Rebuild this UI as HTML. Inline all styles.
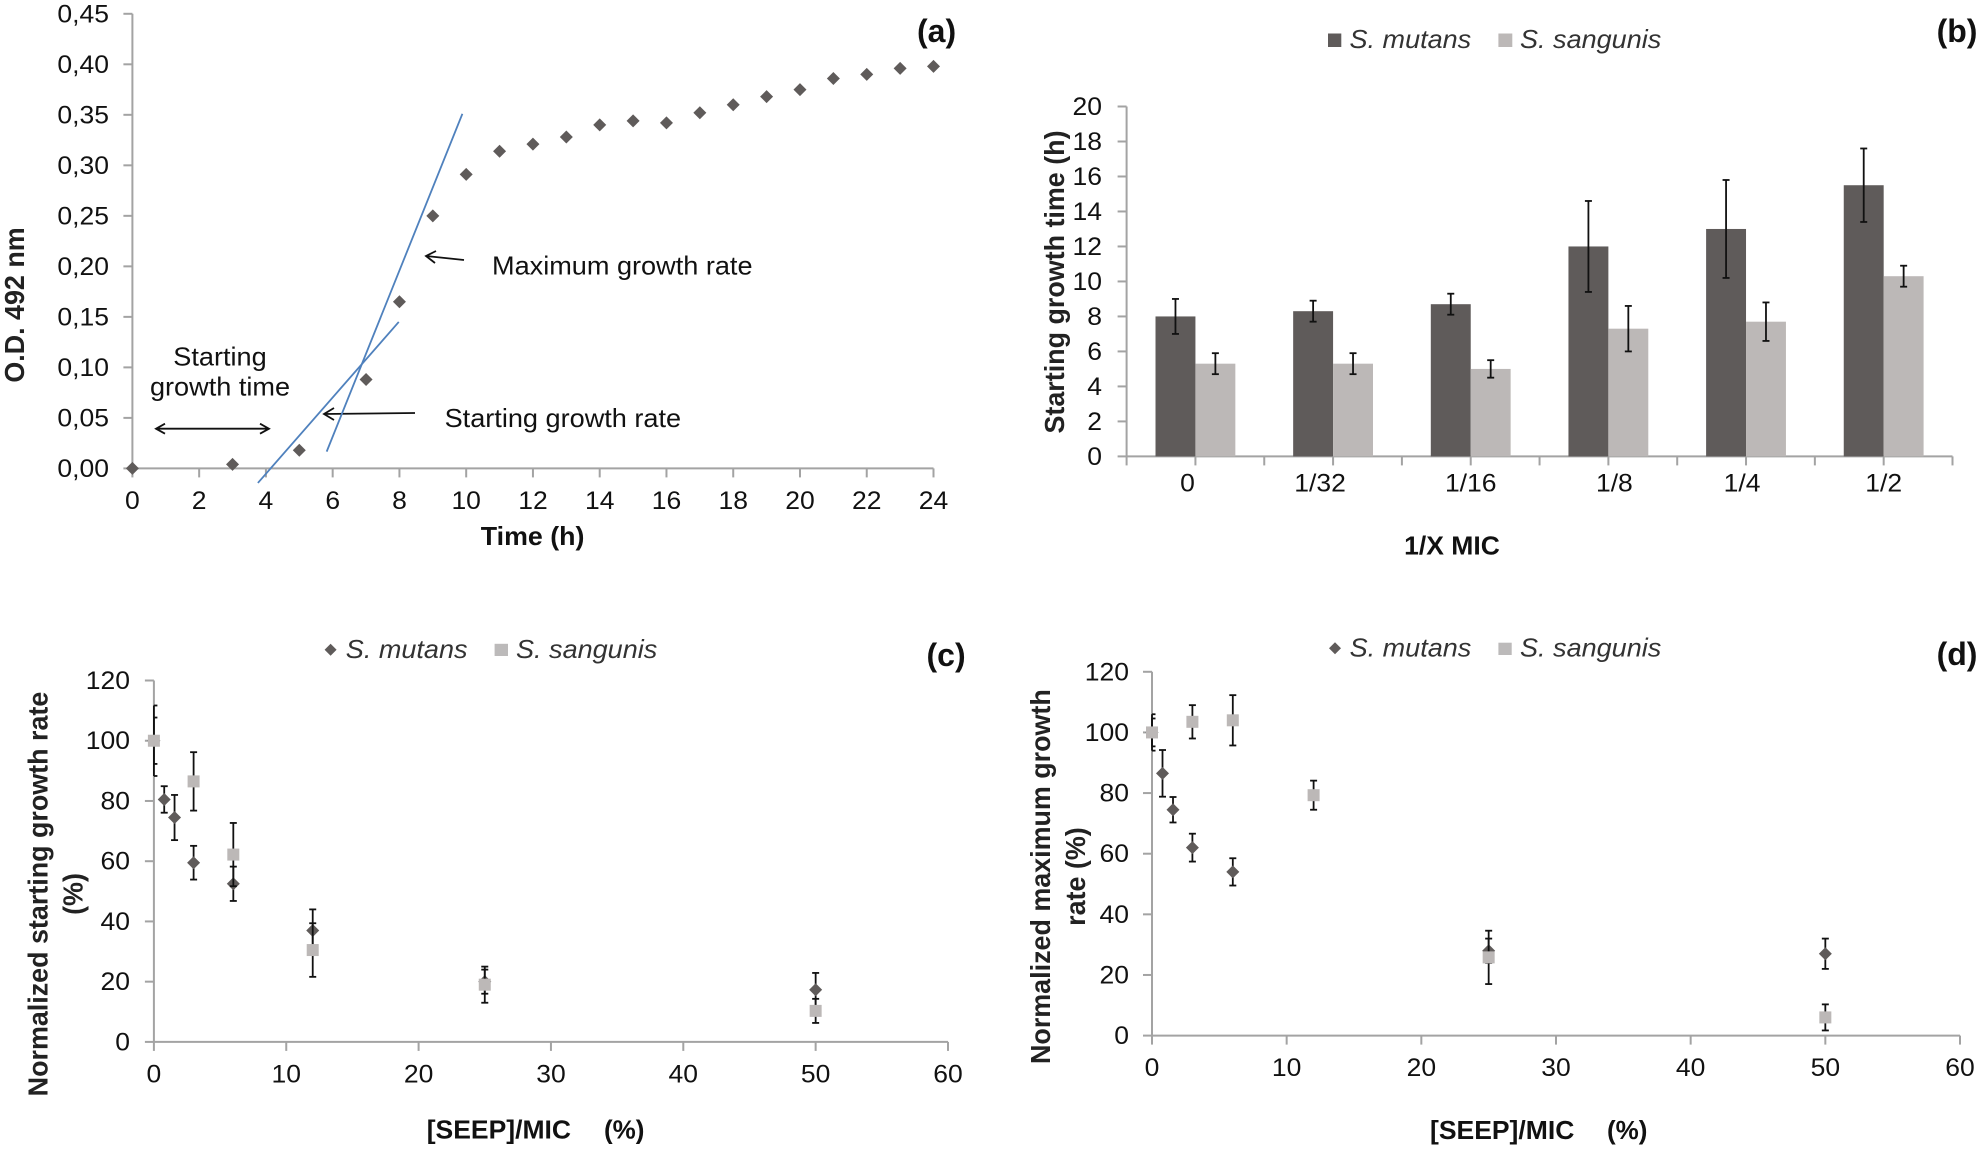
<!DOCTYPE html>
<html lang="en">
<head>
<meta charset="utf-8">
<title>Bacterial growth charts</title>
<style>
html,body{margin:0;padding:0;background:#fff;}
svg{display:block;}
text{font-family:"Liberation Sans",Arial,sans-serif;fill:#111;}
.t{font-size:25px;}
.a{font-size:26px;}
.b{font-size:26px;font-weight:bold;}
.p{font-size:32px;font-weight:bold;}
.r{font-size:28px;font-weight:bold;fill:#222;}
.i{font-size:26px;font-style:italic;fill:#333;}
</style>
</head>
<body>
<svg id="figure" xmlns="http://www.w3.org/2000/svg" width="1986" height="1149" viewBox="0 0 1986 1149">
<rect width="1986" height="1149" fill="#fff"/>
<g id="panel-a">
  <text class="p" transform="translate(917 42)">(a)</text>
  <text class="r" transform="translate(24 305) rotate(-90) scale(.96 1)" text-anchor="middle">O.D. 492 nm</text>
  <text class="b" transform="translate(532.6 545) scale(1.03 1)" text-anchor="middle">Time (h)</text>
  <text class="a" transform="translate(220 365.5) scale(1.043 1)" text-anchor="middle">Starting</text>
  <text class="a" transform="translate(220 395.6) scale(1.043 1)" text-anchor="middle">growth time</text>
  <text class="a" transform="translate(492 274.5) scale(1.043 1)">Maximum growth rate</text>
  <text class="a" transform="translate(444.6 427) scale(1.043 1)">Starting growth rate</text>
  <g fill="none" stroke="#111" stroke-width="1.8">
    <path d="M156 428.7H269M165 423.7L156 428.7L165 433.7M260 423.7L269 428.7L260 433.7"/>
    <path d="M464 260L426 256M436 251L426 256L435 263"/>
    <path d="M415 413L324 414M334 408L324 414L334 420"/>
  </g>
</g>
<g id="panel-b">
  <text class="p" transform="translate(1936.6 42)">(b)</text>
  <text class="r" transform="translate(1064 282) rotate(-90) scale(.96 1)" text-anchor="middle">Starting growth time (h)</text>
  <text class="b" transform="translate(1452 554.5) scale(1.02 1)" text-anchor="middle">1/X MIC</text>
  <rect x="1328" y="33.5" width="13.3" height="13.5" fill="#5f5b5a"/>
  <text class="i" transform="translate(1349.5 48) scale(1.04 1)">S. mutans</text>
  <rect x="1498.4" y="33.5" width="13.9" height="13.5" fill="#bcb8b7"/>
  <text class="i" transform="translate(1520 48) scale(1.04 1)">S. sangunis</text>
</g>
<g id="panel-c">
  <text class="p" transform="translate(926.5 666)">(c)</text>
  <text class="r" transform="translate(47.5 894) rotate(-90) scale(.96 1)" text-anchor="middle">Normalized starting growth rate</text>
  <text class="r" transform="translate(82.3 894) rotate(-90) scale(.96 1)" text-anchor="middle">(%)</text>
  <text class="b" transform="translate(426.7 1138.5) scale(1.02 1)">[SEEP]/MIC</text>
  <text class="b" transform="translate(604 1138.5)">(%)</text>
  <path d="M330.6 643.7L336.6 649.7L330.6 655.7L324.6 649.7Z" fill="#5f5b5a"/>
  <text class="i" transform="translate(345.8 657.8) scale(1.04 1)">S. mutans</text>
  <rect x="494.6" y="643.8" width="13.4" height="12.2" fill="#bcbaba"/>
  <text class="i" transform="translate(516 657.8) scale(1.04 1)">S. sangunis</text>
</g>
<g id="panel-d">
  <text class="p" transform="translate(1936.6 665)">(d)</text>
  <text class="r" transform="translate(1050 876.6) rotate(-90) scale(.96 1)" text-anchor="middle">Normalized maximum growth</text>
  <text class="r" transform="translate(1085 876.6) rotate(-90) scale(.96 1)" text-anchor="middle">rate (%)</text>
  <text class="b" transform="translate(1430 1139) scale(1.02 1)">[SEEP]/MIC</text>
  <text class="b" transform="translate(1607 1139)">(%)</text>
  <path d="M1335 642.3L1341 648.3L1335 654.3L1329 648.3Z" fill="#5f5b5a"/>
  <text class="i" transform="translate(1349.6 656.7) scale(1.04 1)">S. mutans</text>
  <rect x="1498.4" y="642.7" width="13.3" height="12.3" fill="#bcbaba"/>
  <text class="i" transform="translate(1520 656.7) scale(1.04 1)">S. sangunis</text>
</g>
</svg>
<script>
// Panel (a) data
const aTimes = [0, 3, 5, 7, 8, 9, 10, 11, 12, 13, 14, 15, 16, 17, 18, 19, 20, 21, 22, 23, 24];
const aOD = [0, 0.004, 0.018, 0.088, 0.165, 0.25, 0.291, 0.314, 0.321, 0.328, 0.34, 0.344, 0.342, 0.352, 0.36, 0.368, 0.375, 0.386, 0.39, 0.396, 0.398];
const aYTicks = ['0,00', '0,05', '0,10', '0,15', '0,20', '0,25', '0,30', '0,35', '0,40', '0,45'];
const aYTickValues = [0, 0.05, 0.1, 0.15, 0.2, 0.25, 0.3, 0.35, 0.4, 0.45];
const aXTicks = [0, 2, 4, 6, 8, 10, 12, 14, 16, 18, 20, 22, 24];
const aMaxRateLineT = [5.82, 9.886];
const aMaxRateLineOD = [0.0166, 0.351];
const aStartRateLineT = [3.76, 7.98];
const aStartRateLineOD = [-0.0144, 0.145];

// Panel (b) data
const bCategories = ['0', '1/32', '1/16', '1/8', '1/4', '1/2'];
const bMutans = [8, 8.3, 8.7, 12, 13, 15.5];
const bMutansErr = [1, 0.6, 0.6, 2.6, 2.8, 2.1];
const bSanguinis = [5.3, 5.3, 5, 7.3, 7.7, 10.3];
const bSanguinisErr = [0.6, 0.6, 0.5, 1.3, 1.1, 0.6];
const bYTicks = [0, 2, 4, 6, 8, 10, 12, 14, 16, 18, 20];

// Panel (c) data
const cMutansX = [0, 0.78, 1.56, 3, 6, 12, 25, 50];
const cMutans = [100, 80.5, 74.5, 59.5, 52.5, 37, 20, 17.3];
const cMutansErr = [11.7, 4.4, 7.5, 5.6, 5.7, 7, 4, 5.6];
const cSanguinisX = [0, 3, 6, 12, 25, 50];
const cSanguinis = [100, 86.5, 62.2, 30.5, 19, 10.3];
const cSanguinisErr = [7.7, 9.7, 10.5, 8.9, 6, 4];

// Panel (d) data
const dMutansX = [0, 0.78, 1.56, 3, 6, 25, 50];
const dMutans = [100, 86.5, 74.5, 62, 54, 28, 27];
const dMutansErr = [6, 7.7, 4.2, 4.6, 4.5, 4, 5];
const dSanguinisX = [0, 3, 6, 12, 25, 50];
const dSanguinis = [100, 103.5, 104, 79.3, 25.8, 6];
const dSanguinisErr = [4.6, 5.5, 8.3, 4.8, 8.8, 4.3];

// Shared scatter ticks
const pctYTicks = [0, 20, 40, 60, 80, 100, 120];
const pctXTicks = [0, 10, 20, 30, 40, 50, 60];

const NS = 'http://www.w3.org/2000/svg';
const AXIS = '#a3a3a3';
const DARK = '#5f5b5a';
const LIGHT = '#bcb8b7';

function scale(d0, d1, r0, r1) {
  return function (v) { return r0 + (v - d0) * (r1 - r0) / (d1 - d0); };
}
function line(parent, x1, y1, x2, y2, stroke, width, name) {
  const el = document.createElementNS(NS, 'line');
  el.setAttribute('x1', x1);
  el.setAttribute('y1', y1);
  el.setAttribute('x2', x2);
  el.setAttribute('y2', y2);
  el.setAttribute('stroke', stroke);
  el.setAttribute('stroke-width', width);
  
  
  parent.appendChild(el);
  return el;
}
function label(parent, x, y, str, anchor, name) {
  const el = document.createElementNS(NS, 'text');
  el.setAttribute('class', 't');
  el.setAttribute('text-anchor', anchor);
  el.setAttribute('transform', 'translate(' + x + ' ' + y + ') scale(1.06 1)');
  el.textContent = str;
  
  
  parent.appendChild(el);
  return el;
}
function diamond(parent, cx, cy, name) {
  const el = document.createElementNS(NS, 'path');
  el.setAttribute('d', 'M' + cx + ' ' + (cy - 6.5) + 'L' + (cx + 6.5) + ' ' + cy + 'L' + cx + ' ' + (cy + 6.5) + 'L' + (cx - 6.5) + ' ' + cy + 'Z');
  el.setAttribute('fill', DARK);
  
  
  parent.appendChild(el);
}
function square(parent, cx, cy, name) {
  const el = document.createElementNS(NS, 'rect');
  el.setAttribute('x', cx - 6);
  el.setAttribute('y', cy - 6);
  el.setAttribute('width', 12);
  el.setAttribute('height', 12);
  el.setAttribute('fill', LIGHT);
  
  
  parent.appendChild(el);
}
function errorBar(parent, px, yTop, yBottom, minX, name) {
  const left = Math.max(px - 3.5, minX);
  line(parent, px, yTop, px, yBottom, '#111', 1.8, name + '-stem');
  line(parent, left, yTop, px + 3.5, yTop, '#111', 1.8, name + '-cap-top');
  line(parent, left, yBottom, px + 3.5, yBottom, '#111', 1.8, name + '-cap-bottom');
}
function drawAxes(parent, box, xVals, xLabels, yVals, yLabels, yLabelRight, xBaseline, x, y, id) {
  line(parent, box.left, box.top, box.left, box.bottom, AXIS, 2, 'y-axis-' + id);
  line(parent, box.left, box.bottom, box.right, box.bottom, AXIS, 2, 'x-axis-' + id);
  yVals.forEach(function (v, i) {
    line(parent, box.left - 9, y(v), box.left, y(v), AXIS, 2, 'y-tick-' + id);
    label(parent, yLabelRight, y(v) + 8.5, yLabels[i], 'end', 'y-tick-label-' + id);
  });
  xVals.forEach(function (v, i) {
    line(parent, x(v), box.bottom, x(v), box.bottom + 9, AXIS, 2, 'x-tick-' + id);
    label(parent, x(v), xBaseline, xLabels[i], 'middle', 'x-tick-label-' + id);
  });
}
function drawScatter(parent, xs, ys, errs, x, y, minX, marker, name) {
  xs.forEach(function (v, i) {
    errorBar(parent, x(v), y(ys[i] + errs[i]), y(ys[i] - errs[i]), minX, 'error-bar-' + name);
  });
  xs.forEach(function (v, i) {
    marker(parent, x(v), y(ys[i]), 'point-' + name);
  });
}

// Panel (a)
(function () {
  const g = document.getElementById('panel-a');
  const box = { left: 132.4, right: 933.5, top: 13.8, bottom: 468.4 };
  const x = scale(0, 24, box.left, box.right);
  const y = scale(0, 0.45, box.bottom, box.top);
  drawAxes(g, box, aXTicks, aXTicks, aYTickValues, aYTicks, 109, 509, x, y, 'a');
  aTimes.forEach(function (t, i) {
    diamond(g, x(t), y(aOD[i]), 'point-od');
  });
  line(g, x(aMaxRateLineT[0]), y(aMaxRateLineOD[0]), x(aMaxRateLineT[1]), y(aMaxRateLineOD[1]), '#4f81bd', 1.8, 'maximum-rate-tangent');
  line(g, x(aStartRateLineT[0]), y(aStartRateLineOD[0]), x(aStartRateLineT[1]), y(aStartRateLineOD[1]), '#4f81bd', 1.8, 'starting-rate-tangent');
})();

// Panel (b)
(function () {
  const g = document.getElementById('panel-b');
  const box = { left: 1126.6, right: 1952.5, top: 106.5, bottom: 456.4 };
  const y = scale(0, 20, box.bottom, box.top);
  const band = (box.right - box.left) / bCategories.length;
  const barW = band * 0.29;
  const labelNudge = [-8, -13, 0, 6, -4, 0];
  line(g, box.left, box.top, box.left, box.bottom, AXIS, 2, 'y-axis-b');
  line(g, box.left, box.bottom, box.right, box.bottom, AXIS, 2, 'x-axis-b');
  bYTicks.forEach(function (v) {
    line(g, box.left - 9, y(v), box.left, y(v), AXIS, 2, 'y-tick-b');
    label(g, 1102, y(v) + 8.5, String(v), 'end', 'y-tick-label-b');
  });
  bCategories.forEach(function (cat, i) {
    const c = box.left + band * (i + 0.5);
    line(g, box.left + band * i, box.bottom, box.left + band * i, box.bottom + 9, AXIS, 2, 'x-tick-b');
    line(g, c, box.bottom, c, box.bottom + 9, AXIS, 2, 'x-tick-b');
    if (i === bCategories.length - 1) {
      line(g, box.right, box.bottom, box.right, box.bottom + 9, AXIS, 2, 'x-tick-b');
    }
    label(g, c + labelNudge[i], 491.6, cat, 'middle', 'x-tick-label-b');

    const m = document.createElementNS(NS, 'rect');
    m.setAttribute('x', c - barW);
    m.setAttribute('y', y(bMutans[i]));
    m.setAttribute('width', barW);
    m.setAttribute('height', box.bottom - y(bMutans[i]));
    m.setAttribute('fill', DARK);
    
    
    g.appendChild(m);

    const s = document.createElementNS(NS, 'rect');
    s.setAttribute('x', c);
    s.setAttribute('y', y(bSanguinis[i]));
    s.setAttribute('width', barW);
    s.setAttribute('height', box.bottom - y(bSanguinis[i]));
    s.setAttribute('fill', LIGHT);
    
    
    g.appendChild(s);

    errorBar(g, c - barW / 2, y(bMutans[i] + bMutansErr[i]), y(bMutans[i] - bMutansErr[i]), 0, 'error-bar-mutans');
    errorBar(g, c + barW / 2, y(bSanguinis[i] + bSanguinisErr[i]), y(bSanguinis[i] - bSanguinisErr[i]), 0, 'error-bar-sanguinis');
  });
})();

// Panel (c)
(function () {
  const g = document.getElementById('panel-c');
  const box = { left: 153.9, right: 948, top: 680.5, bottom: 1041.9 };
  const x = scale(0, 60, box.left, box.right);
  const y = scale(0, 120, box.bottom, box.top);
  drawAxes(g, box, pctXTicks, pctXTicks, pctYTicks, pctYTicks, 130, 1082.5, x, y, 'c');
  drawScatter(g, cMutansX, cMutans, cMutansErr, x, y, box.left, diamond, 'mutans-c');
  drawScatter(g, cSanguinisX, cSanguinis, cSanguinisErr, x, y, box.left, square, 'sanguinis-c');
})();

// Panel (d)
(function () {
  const g = document.getElementById('panel-d');
  const box = { left: 1152, right: 1960, top: 671.8, bottom: 1035.6 };
  const x = scale(0, 60, box.left, box.right);
  const y = scale(0, 120, box.bottom, box.top);
  drawAxes(g, box, pctXTicks, pctXTicks, pctYTicks, pctYTicks, 1129, 1076, x, y, 'd');
  drawScatter(g, dMutansX, dMutans, dMutansErr, x, y, box.left, diamond, 'mutans-d');
  drawScatter(g, dSanguinisX, dSanguinis, dSanguinisErr, x, y, box.left, square, 'sanguinis-d');
})();
</script>
</body>
</html>
